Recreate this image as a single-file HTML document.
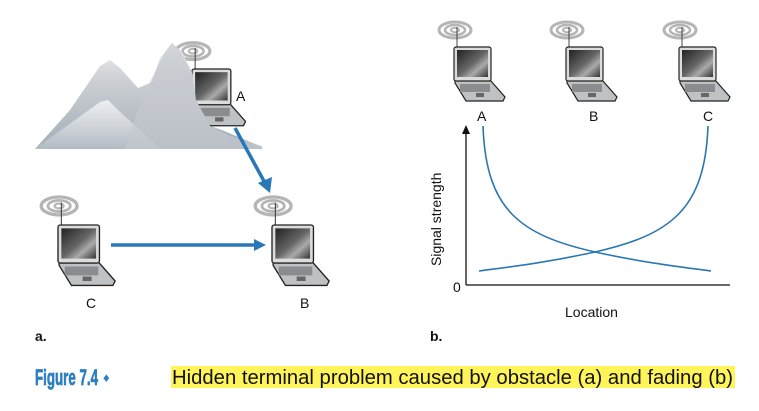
<!DOCTYPE html>
<html><head><meta charset="utf-8"><style>
html,body{margin:0;padding:0;background:#fff;}
svg{display:block;}
text{font-family:"Liberation Sans",sans-serif;}
</style></head><body>
<svg width="759" height="411" viewBox="0 0 759 411" xmlns="http://www.w3.org/2000/svg">
<defs>
<linearGradient id="scr" x1="0" y1="0" x2="1" y2="1">
<stop offset="0" stop-color="#222"/><stop offset="0.5" stop-color="#666"/><stop offset="0.7" stop-color="#aaa"/><stop offset="1" stop-color="#333"/>
</linearGradient>
<linearGradient id="mt" x1="0" y1="0" x2="0" y2="1">
<stop offset="0" stop-color="#f2f3f5"/><stop offset="0.3" stop-color="#d0d3d7"/><stop offset="1" stop-color="#a3adb6"/>
</linearGradient>
<linearGradient id="mt2" x1="0" y1="0" x2="0" y2="1">
<stop offset="0" stop-color="#eef0f2"/><stop offset="1" stop-color="#b3bbc3"/>
</linearGradient>
<g id="lap">
<g fill="none" stroke="#b5b5b5">
<ellipse cx="1" cy="-17" rx="4" ry="2.2" stroke-width="2"/>
<ellipse cx="1" cy="-17" rx="10" ry="5" stroke-width="2.5"/>
<ellipse cx="1" cy="-17" rx="16" ry="8" stroke-width="3"/>
</g>
<line x1="3" y1="0" x2="3" y2="-20" stroke="#444" stroke-width="1"/>
<polygon points="1,33 36,33 51,50 49,54 12,54 1,36" fill="#bfc2c5" stroke="#222" stroke-width="1.2"/>
<rect x="6" y="37" width="30" height="8" fill="#8a8d90"/>
<rect x="22" y="46" width="8" height="4" fill="#666"/>
<rect x="0" y="0" width="37" height="34" rx="2" fill="#dcdcdc" stroke="#222" stroke-width="1.2"/>
<rect x="3" y="3" width="31" height="27" fill="url(#scr)"/>
</g>
</defs>

<use href="#lap" transform="translate(192,69) scale(1.05)"/>
<polygon points="35,149 70,110 100,66 110,60 120,68 138,88 152,82 160,58 172,43 182,52 192,72 196,100 210,126 222,130 262,147 262,149" fill="url(#mt)"/>
<polygon points="35,149 75,120 100,102 108,100 118,110 140,130 160,149" fill="url(#mt2)"/>
<polygon points="125,149 135,118 150,82 165,52 172,43 180,50 192,75 196,100 210,126 230,136 262,146 262,149" fill="#c4c9ce" opacity="0.7"/>

<use href="#lap" transform="translate(58,225) scale(1.12)"/>
<use href="#lap" transform="translate(272,225) scale(1.12)"/>

<line x1="235" y1="128" x2="265" y2="183" stroke="#2878b8" stroke-width="3.5"/>
<polygon points="270,193 258,183 272,177" fill="#2878b8"/>
<line x1="111" y1="245" x2="256" y2="245" stroke="#2878b8" stroke-width="3.5"/>
<polygon points="266,245 254,239 254,251" fill="#2878b8"/>

<text x="236" y="101" font-size="14" fill="#111">A</text>
<text x="86" y="308" font-size="14" fill="#111">C</text>
<text x="300" y="308" font-size="14" fill="#111">B</text>
<text x="35" y="341" font-size="14" font-weight="bold" fill="#111">a.</text>

<use href="#lap" transform="translate(454,47)"/>
<use href="#lap" transform="translate(566,47)"/>
<use href="#lap" transform="translate(679,47)"/>
<text x="477" y="121" font-size="14" fill="#111">A</text>
<text x="589" y="121" font-size="14" fill="#111">B</text>
<text x="703" y="121" font-size="14" fill="#111">C</text>

<line x1="466" y1="134" x2="466" y2="285" stroke="#111" stroke-width="1.3"/>
<polygon points="466,125 462,134 470,134" fill="#111"/>
<line x1="466" y1="285" x2="730" y2="285" stroke="#111" stroke-width="1.3"/>
<text x="453" y="292" font-size="14" fill="#111">0</text>
<text x="565" y="317" font-size="14" fill="#111">Location</text>
<text transform="translate(441,266) rotate(-90)" font-size="14" fill="#111">Signal strength</text>

<path d="M483,126 C486,210 520,235 595,252 C650,264 690,268 711,271" fill="none" stroke="#2a78b0" stroke-width="1.6"/>
<path d="M708,126 C705,210 670,235 595,252 C540,264 500,268 479,271" fill="none" stroke="#2a78b0" stroke-width="1.6"/>

<text x="430" y="341" font-size="14" font-weight="bold" fill="#111">b.</text>

<rect x="171" y="366" width="564" height="22" fill="#fff459"/>
<text x="35" y="385" font-size="22" font-weight="700" fill="#2c7fc0" stroke="#2c7fc0" stroke-width="0.7" textLength="63" lengthAdjust="spacingAndGlyphs">Figure 7.4</text>
<text x="103" y="382" font-size="13" fill="#2c7fc0">♦</text>
<text x="172" y="384" font-size="20" fill="#111" textLength="561" lengthAdjust="spacingAndGlyphs">Hidden terminal problem caused by obstacle (a) and fading (b)</text>
</svg>
</body></html>
